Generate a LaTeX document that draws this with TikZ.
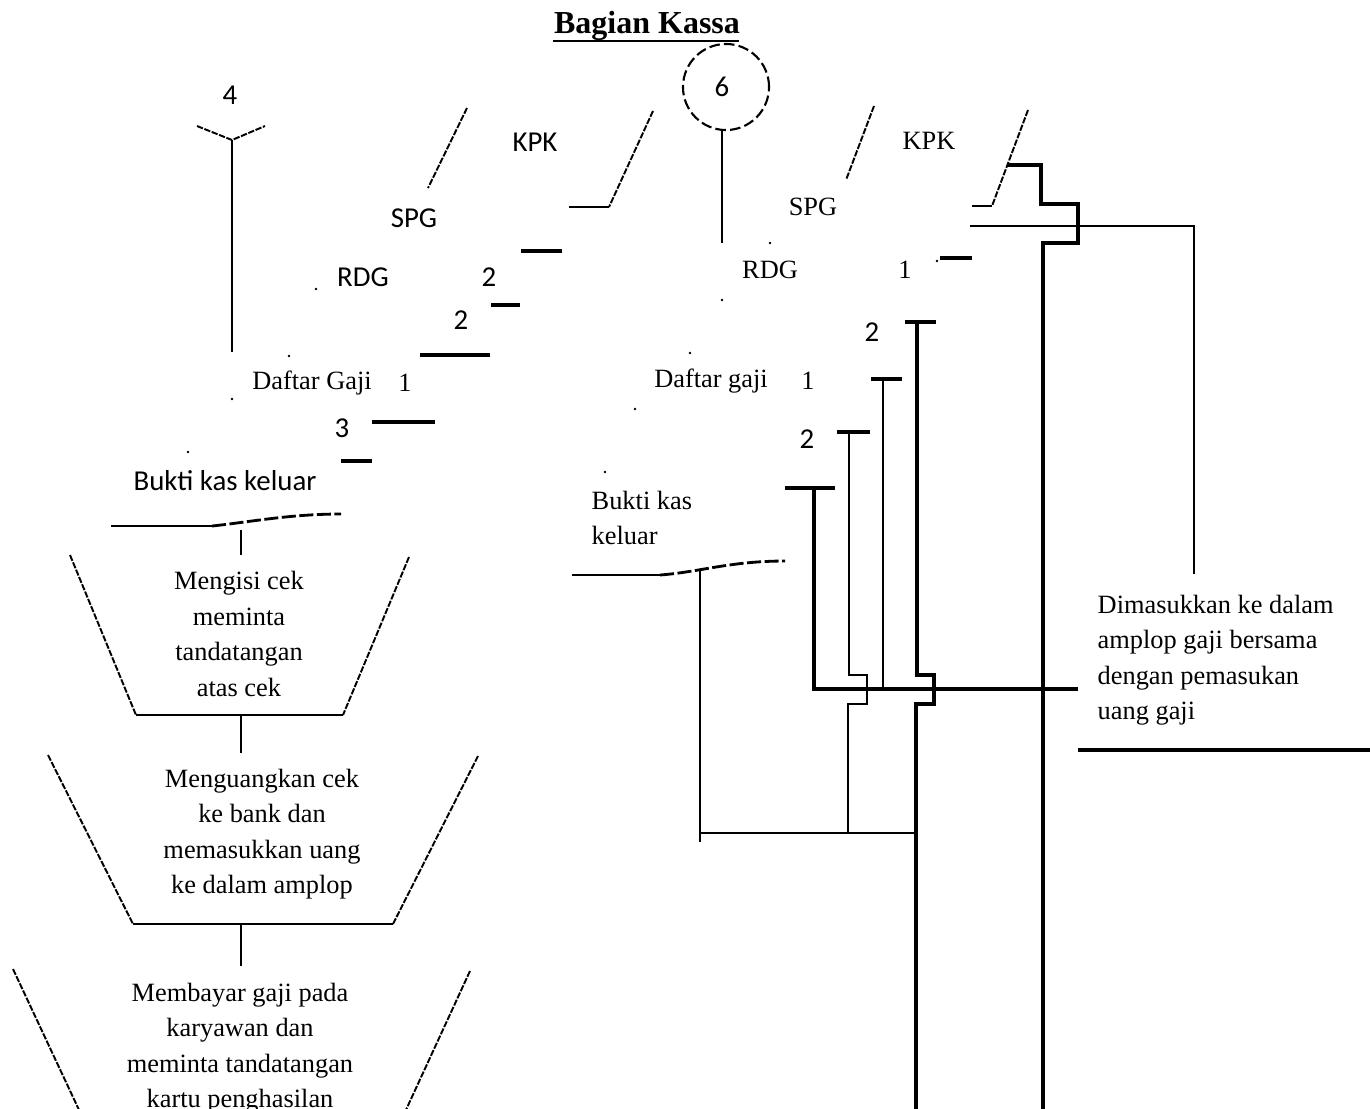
\documentclass[tikz,border=0pt]{standalone}
\usepackage{fontspec}
\setmainfont{Liberation Serif}
\newfontfamily\calfont{Carlito}

\begin{document}
\begin{tikzpicture}[x=0.01cm, y=-0.01cm,
    ser/.style={font=\fontsize{7.5}{10.1}\selectfont, inner sep=0pt},
    cal/.style={font=\calfont\fontsize{8.2}{10}\selectfont, inner sep=0pt},
    ln/.style={line width=0.6pt},
    thk/.style={line width=0.9pt},
    stub/.style={line width=1pt},
    brk/.style={line width=0.55pt, dash pattern=on 1.8pt off 0.45pt}]
    \useasboundingbox (0,0) rectangle (1370,1108);
    \clip (0,0) rectangle (1370,1108);

    % Title
    \node[font=\fontsize{9.1}{11}\selectfont\bfseries, inner sep=0pt, anchor=base] (title) at (647,33) {Bagian Kassa};
    \draw[line width=0.65pt] (title.base west) ++(0,8) -- ++(186,0);

    % Left column: documents
    \node[cal] (n4) at (230,95) {4};
    \node[cal] (kpkA) at (535,142) {KPK};
    \node[cal] (spgA) at (414,218) {SPG};
    \node[cal] (rdgA) at (363,277) {RDG};
    \node[cal] (twoA) at (489,277) {2};
    \node[cal] (twoB) at (461,320) {2};
    \node[ser] (dgA) at (312,383) {Daftar Gaji};
    \node[ser] (oneA) at (405,383) {1};
    \node[cal] (three) at (342,428) {3};
    \node[cal] (bkkA) at (225,481) {Bukti kas keluar};

    \draw[brk] (197,126) -- (232,140) -- (265,126);
    \draw[ln] (232,140) -- (232,352);
    \draw[brk] (467,108) -- (428,188);
    \draw[brk] (653,111) -- (609,207);
    \draw[ln] (609,207) -- (569,207);
    \draw[ln] (111,526) -- (212,526);
    \draw[line width=0.8pt, dash pattern=on 4pt off 1pt] (212,526) .. controls (250,522) and (290,514) .. (341,514);

    % Left column: manual steps
    \node[ser, align=center] (isi) at (239,634) {Mengisi cek\\meminta\\tandatangan\\atas cek};
    \node[ser, align=center] (uang) at (262,834) {Menguangkan cek\\ke bank dan\\memasukkan uang\\ke dalam amplop};
    \node[ser, align=center] (bayar) at (240,1048) {Membayar gaji pada\\karyawan dan\\meminta tandatangan\\kartu penghasilan};

    \draw[ln] (241,530) -- (241,555);
    \draw[brk] (70,555) -- (136,715);
    \draw[brk] (409,557) -- (343,715);
    \draw[ln] (136,715) -- (343,715);
    \draw[ln] (241,715) -- (241,753);
    \draw[brk] (48,755) -- (133,924);
    \draw[brk] (478,756) -- (393,924);
    \draw[ln] (133,924) -- (393,924);
    \draw[ln] (241,924) -- (241,966);
    \draw[brk] (13,969) -- (80,1112);
    \draw[brk] (470,971) -- (405,1112);

    % Middle: connector 6 and documents
    \node[cal] (n6) at (722,87) {6};
    \node[ser] (kpkB) at (929,141) {KPK};
    \node[ser] (spgB) at (813,207) {SPG};
    \node[ser] (rdgB) at (770,270) {RDG};
    \node[ser] (oneB) at (905,270) {1};
    \node[cal] (twoC) at (872,332) {2};
    \node[ser] (dgB) at (711,381) {Daftar gaji};
    \node[ser] (oneC) at (808,381) {1};
    \node[cal] (twoD) at (807,439) {2};
    \node[ser, align=left, anchor=west] (bkkB) at (591,518) {Bukti kas\\keluar};

    \draw[line width=0.6pt, dash pattern=on 3pt off 1.2pt] (726,87) circle (0.43cm);
    \draw[ln] (722,130) -- (722,243);
    \draw[brk] (874,106) -- (846,180);
    \draw[brk] (1028,110) -- (992,206);
    \draw[ln] (992,206) -- (972,206);
    \draw[ln] (572,575) -- (660,575);
    \draw[line width=0.8pt, dash pattern=on 4pt off 1pt] (660,575) .. controls (700,572) and (730,561) .. (785,561);

    % short edges of the stacked copies
    \foreach \xa/\xb/\yy in {521/562/251, 491/520/305, 420/490/355, 372/435/422, 341/372/461,
                             940/972/258, 905/936/322, 871/902/379, 837/870/432, 785/835/488}
        \draw[stub] (\xa,\yy) -- (\xb,\yy);
    \foreach \p in {(316,289),(289,356),(232,399),(188,452),(770,243),(722,300),(690,353),(635,409),(605,472),(937,261)}
        \fill \p circle (0.4pt);

    % Flow lines
    \draw[thk] (1007,165) -- (1041,165) -- (1041,204) -- (1078,204) -- (1078,243) -- (1043,243) -- (1043,1110);
    \draw[ln] (970,226) -- (1194,226) -- (1194,574);
    \draw[thk] (917,322) -- (917,675) -- (934,675) -- (934,704) -- (916,704) -- (916,1110);
    \draw[ln] (883,379) -- (883,689);
    \draw[ln] (849,432) -- (849,675) -- (867,675) -- (867,704) -- (848,704) -- (848,833);
    \draw[thk] (814,488) -- (814,689) -- (1078,689);
    \draw[ln] (700,569) -- (700,842);
    \draw[ln] (700,833) -- (916,833);

    % Filing note
    \node[ser, align=left, anchor=west] (masuk) at (1097,660) {Dimasukkan ke dalam\\amplop gaji bersama\\dengan pemasukan\\uang gaji};
    \draw[thk] (1078,750) -- (1372,750);
\end{tikzpicture}
\end{document}
